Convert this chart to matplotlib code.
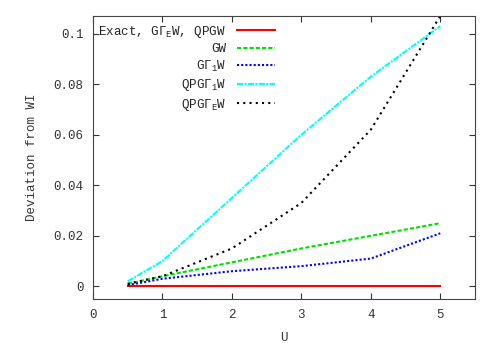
import numpy as np
import matplotlib.pyplot as plt

plt.rcParams['font.family'] = ['Liberation Mono', 'DejaVu Sans Mono']
plt.rcParams['mathtext.fontset'] = 'custom'
plt.rcParams['mathtext.rm'] = 'Liberation Mono'
plt.rcParams['mathtext.it'] = 'Liberation Mono'

U = [0.5, 1, 2, 3, 4, 5]
exact = [0, 0, 0, 0, 0, 0]
gw = [0.001, 0.004, 0.0095, 0.015, 0.020, 0.025]
g1w = [0.0005, 0.003, 0.006, 0.008, 0.011, 0.021]
qpg1w = [0.002, 0.010, 0.035, 0.060, 0.083, 0.103]
qpgew = [0.001, 0.004, 0.015, 0.033, 0.062, 0.107]

fig = plt.figure(figsize=(4.91, 3.43), dpi=100)
ax = fig.add_axes([0.1894, 0.1283, 0.778, 0.825])

ax.plot(U, exact, color='#ff0000', lw=1.5, ls='-', label=r'Exact, G$\Gamma_\mathrm{E}$W, QPGW')
ax.plot(U, gw, color='#00e000', lw=1.5, ls=(0, (2, 1)), label='GW')
ax.plot(U, g1w, color='#0000ff', lw=1.5, ls=(0, (1, 1)), label=r'G$\Gamma_\mathrm{1}$W')
ax.plot(U, qpg1w, color='#00ffff', lw=1.5, ls=(0, (3, 0.6, 1, 0.6)), label=r'QPG$\Gamma_\mathrm{1}$W')
ax.plot(U, qpgew, color='black', lw=1.5, ls=(0, (1, 2)), label=r'QPG$\Gamma_\mathrm{E}$W')

ax.set_xlim(0, 5.5)
ax.set_ylim(-0.005, 0.107)
ax.set_xticks([0, 1, 2, 3, 4, 5])
ax.set_yticks([0, 0.02, 0.04, 0.06, 0.08, 0.1])
ax.set_yticklabels(['0', '0.02', '0.04', '0.06', '0.08', '0.1'])
ax.tick_params(direction='in', top=True, right=True, labelsize=9, colors='#333333', length=4, pad=7)
for s in ax.spines.values():
    s.set_color('#444444')
ax.set_xlabel('U', fontsize=9, labelpad=8, color='#333333')
ax.set_ylabel('Deviation from WI', fontsize=9, labelpad=11, color='#333333')

leg = ax.legend(loc='upper left', bbox_to_anchor=(-0.006, 1.0), frameon=False, markerfirst=False,
                fontsize=9, handlelength=3.0, labelspacing=0.28, handletextpad=0.9, borderaxespad=0.2)
for t in leg.get_texts():
    t.set_color('#222222')

fig.savefig('out.png')
